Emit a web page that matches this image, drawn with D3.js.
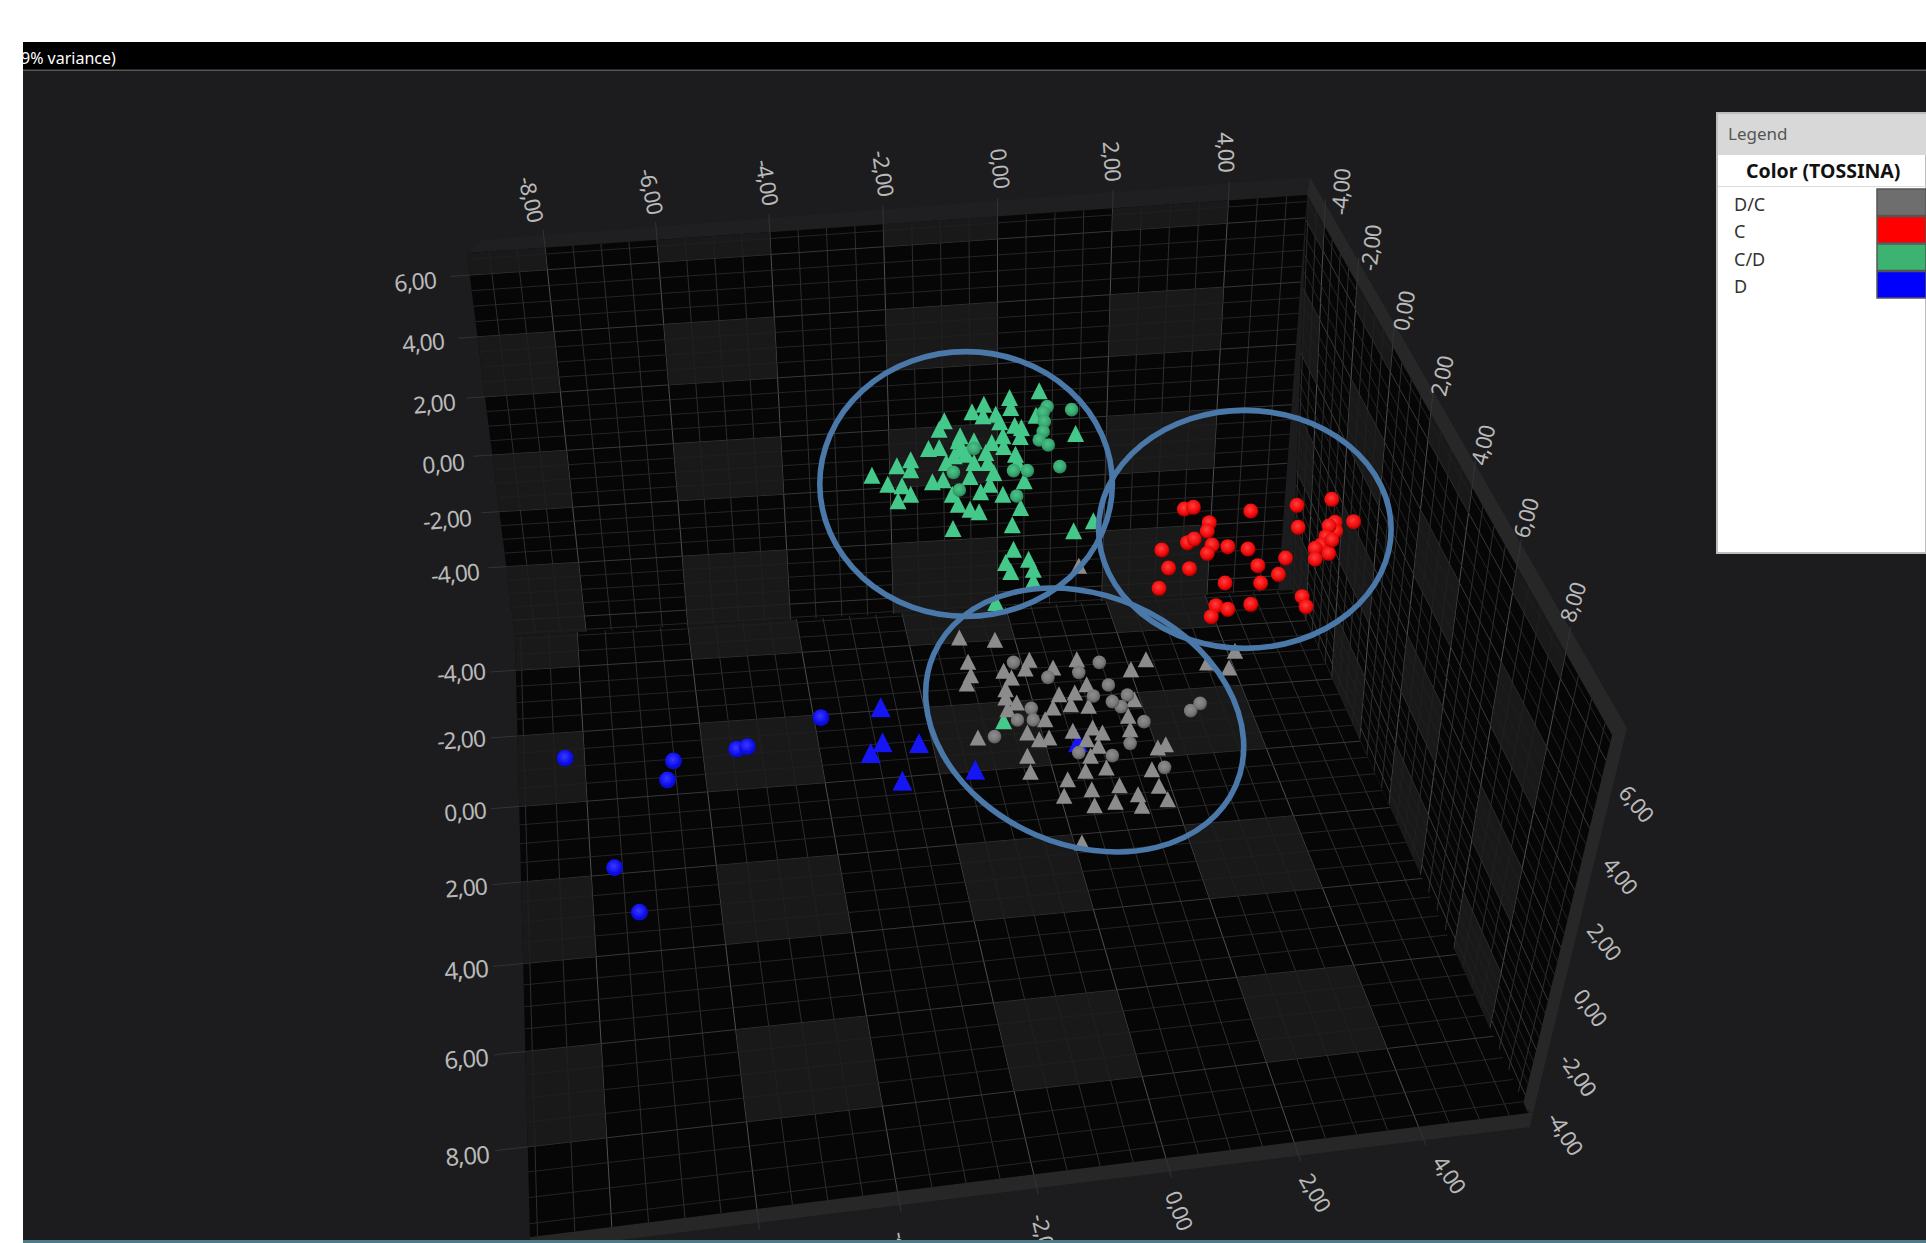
<!DOCTYPE html>
<html><head><meta charset="utf-8">
<style>html,body{margin:0;padding:0;background:#fff;overflow:hidden}svg{display:block}text{font-family:"Noto Sans",sans-serif}</style>
<script src="https://cdn.jsdelivr.net/npm/d3@7"></script></head>
<body><svg id="c" width="1926" height="1243"></svg>
<script>
// ---------- tick values and categories ----------
const xTicks=[-8,-6,-4,-2,0,2,4];
const yTicks=[6,4,2,0,-2,-4];
const depthTicks=[-4,-2,0,2,4,6,8];
const bottomTicks=[-4,-2,0,2,4];
const legendNames=["D/C","C","C/D","D"];
const legendColors=["#6e6e6e","#ff0000","#3cb371","#0000ff"];
// ---------- points: [horizontal, vertical] in projected view units ----------
const cdTriangles=[[605,155],[530,175],[533,205],[465,195],[435,218],[463,230],[495,225],[505,248],[365,245],[352,270],[543,258],[560,265],[557,292],[697,283],[597,228],[513,290],[405,290],[400,305],[440,305],[485,310],[515,322],[325,328],[352,325],[280,362],[245,380],[280,392],[182,408],[222,435],[258,440],[280,465],[248,485],[335,428],[362,422],[405,330],[390,350],[420,345],[470,340],[545,345],[370,370],[440,370],[475,370],[490,400],[430,412],[567,425],[480,435],[457,458],[385,465],[513,465],[400,495],[430,510],[453,518],[558,505],[537,557],[387,568],[692,575],[742,545],[540,630],[520,670],[533,697],[578,660],[590,690],[590,725],[495,790],[550,370],[515,1145]];
const cdSpheres=[[687,209],[625,200],[615,218],[618,245],[615,275],[605,300],[628,315],[440,325],[657,380],[388,397],[540,392],[575,392],[403,450],[548,468]];
const cSpheres=[[972,507],[995,502],[1140,513],[1257,496],[1345,478],[1035,548],[1030,573],[1260,562],[1400,545],[1353,547],[1355,573],[1338,558],[980,608],[997,597],[1042,615],[1030,640],[1082,620],[1133,627],[915,630],[1330,590],[1318,615],[1303,625],[1303,657],[1337,640],[932,684],[985,686],[1158,677],[1228,654],[1210,703],[1075,729],[1165,729],[908,745],[1052,797],[1082,808],[1040,830],[1140,793],[1270,770],[1280,800],[1345,600]];
const dcTriangles=[[403,895],[493,902],[425,968],[432,1008],[422,1033],[515,995],[535,1015],[580,962],[570,988],[640,985],[700,960],[875,960],[837,990],[725,1035],[520,1050],[520,1075],[525,1110],[548,1090],[655,1065],[695,1060],[685,1095],[640,1105],[730,1100],[845,1080],[830,1130],[620,1140],[835,1170],[740,1165],[690,1175],[765,1180],[575,1180],[630,1195],[605,1200],[450,1195],[725,1200],[755,1220],[905,1225],[925,1215],[735,1250],[575,1250],[583,1298],[722,1295],[775,1285],[890,1290],[677,1320],[908,1340],[738,1350],[808,1338],[668,1370],[855,1365],[930,1380],[745,1398],[798,1388],[865,1400],[713,1510],[705,680],[1030,970],[1100,935],[1085,985]];
const dcSpheres=[[540,967],[757,967],[705,997],[627,1012],[780,1035],[828,1065],[742,1068],[812,1100],[790,1085],[585,1105],[550,1140],[590,1140],[870,1145],[492,1190],[835,1210],[705,1238],[790,1247],[922,1282],[1012,1090],[988,1112]];
const dTriangles=[[204,1105],[209,1210],[179,1242],[301,1212],[259,1325],[443,1292],[703,1210]];
const dSpheres=[[-594,1255],[-320,1263],[-335,1320],[-160,1228],[-133,1220],[53,1133],[-469,1583],[-406,1717]];
// hand-drawn ellipses: centre x, centre y, radius x, radius y, tilt
const ellipses=[[420,432,370,397,0],[1125,568,370,357,0]];
const tiltedEllipse={cx:720,cy:1140};

// ---------- layout ----------
const svg=d3.select("#c");
const W=1926,H=1243;
const viewX=d3.scaleLinear().domain([0,1568]).range([800,1420]);
const viewY=d3.scaleLinear().domain([0,1560]).range([340,860]);
const fmt=d3.formatLocale({decimal:",",thousands:".",grouping:[3],currency:["",""],minus:"-"}).format(".2f");

function homography(q){
  const [[x0,y0],[x1,y1],[x2,y2],[x3,y3]]=q;
  const dx1=x1-x2,dx2=x3-x2,sx=x0-x1+x2-x3,dy1=y1-y2,dy2=y3-y2,sy=y0-y1+y2-y3;
  const det=dx1*dy2-dx2*dy1;
  const g=(sx*dy2-dx2*sy)/det,h=(dx1*sy-sx*dy1)/det;
  const a=x1-x0+g*x1,b=x3-x0+h*x3,d=y1-y0+g*y1,e=y3-y0+h*y3;
  return (u,v)=>{const w=g*u+h*v+1;return[(a*u+b*v+x0)/w,(d*u+e*v+y0)/w];};
}
function wall(quad,du,dv){
  const H=homography(quad),su=d3.scaleLinear().domain(du),sv=d3.scaleLinear().domain(dv);
  return {du,dv,p:(a,b)=>H(su(a),sv(b))};
}
const Dx1=[-9.4,5.35],Dx2=[-9.1,5.81],Dy=[6.7,-6.6],Dd=[-5.1,9.75];
const back=wall([[467,253],[1307,195],[1278,592],[515,636]],Dx1,Dy);
const floor=wall([[515,636],[1292,590],[1528,1113],[530,1237]],Dx2,Dd);
const right=wall([[1307,195],[1612,735],[1522,1108],[1292,590]],Dd,Dy);

const bandX=[[-10,-8],[-6,-4],[-2,0],[2,4]];
const bandY=[[6,8],[2,4],[-2,0],[-8,-4]];
const bandD=[[-6,-4],[-2,0],[2,4],[6,8]];
const patchFill="#1d1d1e";

svg.append("rect").attr("width",W).attr("height",H).attr("fill","#fff");
svg.append("rect").attr("x",23).attr("y",42).attr("width",W-23).attr("height",H-42).attr("fill","#1c1c1e");
svg.append("rect").attr("x",23).attr("y",42).attr("width",W-23).attr("height",28).attr("fill","#000");
svg.append("rect").attr("x",23).attr("y",69.5).attr("width",W-23).attr("height",1.5).attr("fill","#555");
svg.append("clipPath").attr("id","tc").append("rect").attr("x",23).attr("y",42).attr("width",300).attr("height",28);
svg.append("text").attr("clip-path","url(#tc)").attr("x",21).attr("y",64).attr("font-size",16).attr("fill","#fff").text("9% variance)");

const line=d3.line();
const defs=svg.append("defs");
function grad(id,hi,mid,lo){
  const g=defs.append("radialGradient").attr("id",id).attr("cx","45%").attr("cy","40%").attr("r","60%");
  g.append("stop").attr("offset","0%").attr("stop-color",hi);
  g.append("stop").attr("offset","65%").attr("stop-color",mid);
  g.append("stop").attr("offset","100%").attr("stop-color",lo);
}
grad("gG","#4cc48a","#38a870","#2a7f55");
grad("gR","#ff4040","#f20c0c","#b00000");
grad("gA","#8e8e8e","#787878","#565656");
grad("gB","#3a3aff","#1010f0","#0808b0");
const soft=defs.append("filter").attr("id","soft");
soft.append("feGaussianBlur").attr("stdDeviation",0.5);

// lips of the box
const lips=svg.append("g").attr("fill","#272728");
lips.selectAll("path").data([
  [right.p(-5.1,6.7),[1310,177],[1627,728],[1612,735]],
  [[1627,728],[1533,1113],[1522,1108],[1612,735]],
  [[530,1237],[1528,1113],[1533,1113],[1530,1127],[620,1240],[530,1240]],
]).join("path").attr("d",d=>line(d)+"Z");
svg.append("path").attr("d",line([[470,253],[1307,195],[1310,177],[480,240]])+"Z").attr("fill","#1f1f21");

function drawWall(w,uBands,vBands){
  const g=svg.append("g");
  const [u0,u1]=w.du,[v0,v1]=w.dv;
  g.append("path").attr("d",line([w.p(u0,v0),w.p(u1,v0),w.p(u1,v1),w.p(u0,v1)])+"Z").attr("fill","#060606");
  const cu=(a)=>Math.max(Math.min(u0,u1),Math.min(Math.max(u0,u1),a));
  const cv=(a)=>Math.max(Math.min(v0,v1),Math.min(Math.max(v0,v1),a));
  const us=d3.range(-12,12.01,0.5).filter(t=>t>=Math.min(u0,u1)&&t<=Math.max(u0,u1));
  const vs=d3.range(-12,12.01,0.5).filter(t=>t>=Math.min(v0,v1)&&t<=Math.max(v0,v1));
  us.forEach(t=>{const M=t%2===0;
    g.append("path").attr("d",line([w.p(t,v0),w.p(t,v1)])).attr("fill","none").attr("stroke",M?"#505050":"#383838").attr("stroke-width",M?1:0.8);});
  vs.forEach(t=>{const M=t%2===0;
    g.append("path").attr("d",line([w.p(u0,t),w.p(u1,t)])).attr("fill","none").attr("stroke",M?"#383838":"#2c2c2c").attr("stroke-width",M?1:0.8);});
  // lighter patches sit over the lines and mute them, as in the picture
  uBands.forEach(ub=>vBands.forEach(vb=>{
    const a=cu(ub[0]),b=cu(ub[1]),c=cv(vb[0]),d=cv(vb[1]);
    if(a===b||c===d)return;
    g.append("path").attr("d",line([w.p(a,c),w.p(b,c),w.p(b,d),w.p(a,d)])+"Z").attr("fill",patchFill).attr("fill-opacity",0.85);
  }));
  return g;
}
drawWall(right,bandD,bandY);
drawWall(back,bandX,bandY);
drawWall(floor,bandX,bandD);

// tick extensions
const ext=svg.append("g").attr("stroke","#333336").attr("stroke-width",1).attr("fill","none");
const addExt=(a,b)=>ext.append("path").attr("d",line([a,b]));
xTicks.forEach(t=>addExt(back.p(t,6.7),back.p(t,7.25)));
yTicks.forEach(t=>addExt(back.p(-9.4,t),back.p(-9.75,t)));
depthTicks.forEach(t=>addExt(floor.p(-9.1,t),floor.p(-9.55,t)));
depthTicks.forEach(t=>addExt(right.p(t,6.7),right.p(t,7.4)));
[-6,-4,-2,0,2,4].forEach(t=>addExt(floor.p(t,9.75),floor.p(t,10.15)));

// ---------- markers ----------
const tri=(w,h)=>`M0,${-h*0.55}L${w/2},${h*0.45}L${-w/2},${h*0.45}Z`;
const marks=svg.append("g").attr("filter","url(#soft)");
function triangles(data,w,h,fill){
  marks.append("g").selectAll("path").data(data).join("path")
    .attr("transform",d=>`translate(${viewX(d[0])},${viewY(d[1])})`)
    .attr("d",tri(w,h)).attr("fill",fill);
}
function spheres(data,r,fill){
  marks.append("g").selectAll("circle").data(data).join("circle")
    .attr("cx",d=>viewX(d[0])).attr("cy",d=>viewY(d[1])).attr("r",r).attr("fill",fill);
}
triangles(dTriangles,20,20,"#1414f5");
spheres(dSpheres,8.5,"url(#gB)");
triangles(cdTriangles,17,17,"#45c98b");
spheres(cdSpheres,6.8,"url(#gG)");
spheres(cSpheres,7.5,"url(#gR)");
triangles(dcTriangles,16.5,16,"#8c8c8c");
spheres(dcSpheres,6.8,"url(#gA)");

// ---------- ellipses ----------
const ell=svg.append("g").attr("fill","none").attr("stroke","#4a78a8").attr("stroke-width",5.6);
ellipses.forEach(e=>{
  ell.append("ellipse").attr("cx",viewX(e[0])).attr("cy",viewY(e[1]))
    .attr("rx",viewX(e[2])-viewX(0)).attr("ry",viewY(e[3])-viewY(0));
});
ell.append("ellipse").attr("cx",viewX(tiltedEllipse.cx)).attr("cy",viewY(tiltedEllipse.cy))
  .attr("rx",164.7).attr("ry",124.8)
  .attr("transform",`rotate(23.5 ${viewX(tiltedEllipse.cx)} ${viewY(tiltedEllipse.cy)})`);

// ---------- axis labels ----------
function axisLabels(ticks,xs,ys,rots,size){
  const sx=d3.scaleLinear().domain(ticks).range(xs),sy=d3.scaleLinear().domain(ticks).range(ys),
        sr=d3.scaleLinear().domain(ticks).range(rots),ss=d3.scaleLinear().domain(ticks).range(size);
  svg.append("g").attr("fill","#b9b9b9").selectAll("text").data(ticks).join("text")
    .attr("text-anchor","middle").attr("dominant-baseline","central")
    .attr("font-size",d=>ss(d)).attr("letter-spacing",-1)
    .attr("transform",d=>`translate(${sx(d)},${sy(d)}) rotate(${sr(d)})`).text(fmt);
}
axisLabels(xTicks,[532,652,768,884,1001,1113,1227],[199,191,182,173,168,161,152],[77,78,80,82,84,86,88],[22,22,22,22,22,22,22]);
axisLabels(yTicks,[415,423,434,443,447,455],[281,342,403,463,519,573],[-5,-5,-5,-5,-5,-5],[23,23,23,23,23,23]);
axisLabels(depthTicks,[461,461,465,466,466,466,467],[672,739,811,887,969,1058,1155],[-4,-4,-4,-4,-4,-4,-4],[23,23,23,23,24,24,24]);
axisLabels(depthTicks,[1340,1370,1403,1441,1482,1525,1572],[192,248,311,376,445,518,602],[-86,-83,-80,-78,-76,-74,-72],[22,22,22,22,22,22,22]);
axisLabels(yTicks,[1637,1621,1605,1591,1579,1566],[803,875,941,1007,1074,1133],[50,51,52,53,55,57],[22,22,22,22,22,22]);
axisLabels(bottomTicks,[905,1045,1180,1316,1450],[1254,1236,1210,1192,1174],[80,76,69,60,56],[22,22,22,22,22]);
svg.append("rect").attr("x",0).attr("y",1240).attr("width",W).attr("height",3).attr("fill","#4d7c88");
svg.append("rect").attr("x",0).attr("y",0).attr("width",23).attr("height",H).attr("fill","#fff");

// ---------- legend ----------
const leg=svg.append("g");
leg.append("rect").attr("x",1717).attr("y",113).attr("width",W-1717).attr("height",440).attr("fill","#fff").attr("stroke","#bdbdbd").attr("stroke-width",2);
leg.append("rect").attr("x",1718).attr("y",114).attr("width",W-1718).attr("height",41).attr("fill","#d8d8d8");
leg.append("text").attr("x",1728).attr("y",140).attr("font-size",17).attr("fill","#555").text("Legend");
leg.append("text").attr("x",1746).attr("y",178).attr("font-size",19.5).attr("font-weight",700).attr("fill","#111").text("Color (TOSSINA)");
leg.append("rect").attr("x",1718).attr("y",186).attr("width",W-1718).attr("height",1).attr("fill","#dcdcdc");
const rowY=d3.scaleBand().domain(legendNames).range([188.5,298.5]);
const rows=leg.selectAll("g.r").data(legendNames).join("g").attr("class","r");
rows.append("text").attr("x",1734).attr("y",d=>rowY(d)+rowY.bandwidth()/2+8.5).attr("font-size",18).attr("fill","#333").text(d=>d);
rows.append("rect").attr("x",1877).attr("y",d=>rowY(d)+0.5).attr("width",W-1877).attr("height",rowY.bandwidth()-1)
  .attr("fill",(d,i)=>legendColors[i]).attr("stroke","#555").attr("stroke-width",1.5);
</script></body></html>
